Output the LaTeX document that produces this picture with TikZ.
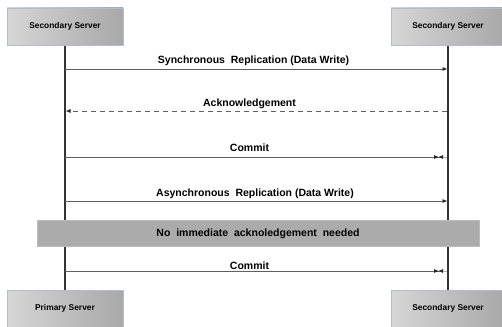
\documentclass[tikz,border=0pt]{standalone}
\usepackage{fontspec}
\setmainfont{Liberation Sans}
\usetikzlibrary{arrows.meta}
\definecolor{boxborder}{HTML}{B4BCCC}
\definecolor{boxL}{HTML}{D6D6D6}
\definecolor{boxR}{HTML}{A8A8A8}
\definecolor{band}{HTML}{ABABAB}
\definecolor{lineC}{HTML}{606060}
\tikzset{
  server/.style={draw=boxborder, line width=0.8pt, left color=boxL, right color=boxR, inner sep=0pt, font=\bfseries\fontsize{8.4}{9}\selectfont},
  life/.style={draw=black!80, line width=1.2pt},
  msg/.style={draw=lineC, line width=0.9pt, -{Triangle[length=4.5pt,width=3.5pt,color=black!85]}},
  commitmsg/.style={draw=lineC, line width=0.9pt, -{Triangle[length=4.5pt,width=3.5pt,color=black!85]Triangle[length=4.5pt,width=3.5pt,reversed,color=black!85]}},
  lbl/.style={font=\bfseries\fontsize{10.5}{12}\selectfont, inner sep=0pt},
}
\begin{document}
\begin{tikzpicture}[x=1pt,y=-1pt]
\useasboundingbox (0,0) rectangle (502,326);
% lifelines
\coordinate (lt) at (65,45);
\coordinate (lb) at (65,290);
\coordinate (rt) at (448,45);
\coordinate (rb) at (448,290);
\draw[life] (lt) -- (lb);
\draw[life] (rt) -- (rb);
% boxes
\node[server, minimum width=116pt, minimum height=37pt] (s1) at (65,26.5) {Secondary Server};
\node[server, minimum width=114pt, minimum height=37pt] (s2) at (448,26.5) {Secondary Server};
\node[server, minimum width=116pt, minimum height=37pt] (p1) at (65,308.5) {Primary Server};
\node[server, minimum width=114pt, minimum height=37pt] (s3) at (448,308.5) {Secondary Server};
% messages
\coordinate (a1) at (65,69); \coordinate (b1) at (447,69);
\draw[msg] (a1) -- (b1);
\node[lbl] (t1) at (253.5,61) {Synchronous\ \ Replication (Data Write)};
\coordinate (a2) at (447,111); \coordinate (b2) at (66,111);
\draw[msg, dashed, dash pattern=on 5pt off 4pt] (a2) -- (b2);
\node[lbl] (t2) at (249.5,104) {Acknowledgement};
\coordinate (a3) at (65,157); \coordinate (b3) at (443,157);
\draw[commitmsg] (a3) -- (b3);
\draw[draw=lineC!50, line width=0.6pt] (b3) -- (447,157);
\node[lbl] (t3) at (249.5,148) {Commit};
\coordinate (a4) at (65,201); \coordinate (b4) at (447,201);
\draw[msg] (a4) -- (b4);
\node[lbl] (t4) at (255,194) {Asynchronous\ \ Replication (Data Write)};
% band
\node[fill=band, draw=band!80!white, minimum width=442pt, minimum height=26pt, inner sep=0pt, font=\bfseries\fontsize{10.5}{12}\selectfont] (nb) at (258,233.5) {No\ \ immediate\ \ acknoledgement\ \ needed};
\coordinate (a5) at (65,271); \coordinate (b5) at (443,271);
\draw[commitmsg] (a5) -- (b5);
\draw[draw=lineC!50, line width=0.6pt] (b5) -- (447,271);
\node[lbl] (t5) at (249.5,265.5) {Commit};
\end{tikzpicture}
\end{document}
